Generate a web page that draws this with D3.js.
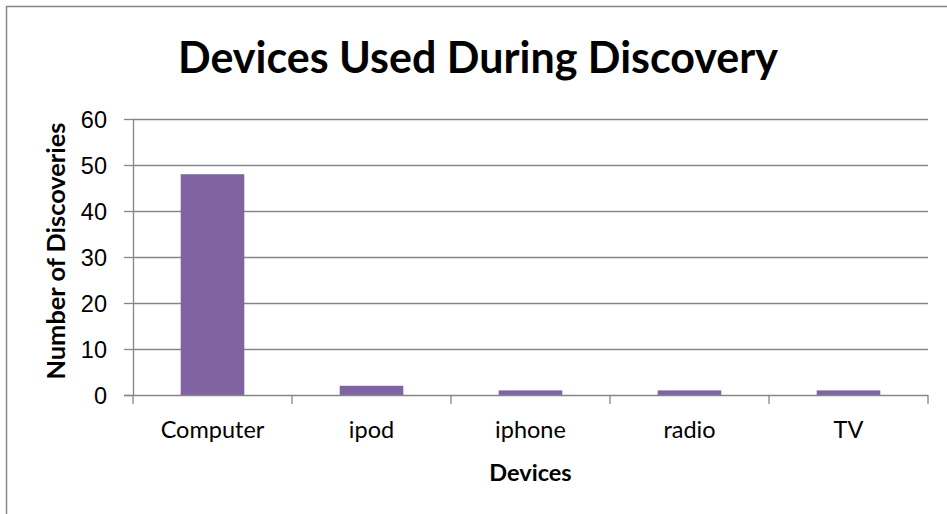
<!DOCTYPE html>
<html>
<head>
<meta charset="utf-8">
<script src="https://cdn.jsdelivr.net/npm/d3@7"></script>
<style type="text/css">
  body{
    margin: 0;
    background: white;
    font-family: 'Lato', 'Open Sans', sans-serif;
  }
  .axis text{
    fill: #000;
    font-size: 23.5px;
  }
  .axis path,
  .axis line{
    stroke: #868686;
  }
</style>
</head>
<body>
<svg id="chart" width="947" height="514"></svg>
<script>

var categories = ['Computer', 'ipod', 'iphone', 'radio', 'TV'];
var discoveries = [48, 2, 1, 1, 1];
var yTicks = [0, 10, 20, 30, 40, 50, 60];

var svg = d3.select('#chart');

// outer chart border (right/bottom fall outside the picture)
svg.append('rect')
  .attr('x', 6.5)
  .attr('y', 6.5)
  .attr('width', 960)
  .attr('height', 520)
  .attr('fill', 'white')
  .attr('stroke', '#868686')
  .attr('stroke-width', 1.5);

var plotL = 133, plotR = 928, plotT = 119, plotB = 395;

var x = d3.scaleBand()
  .domain(categories)
  .range([plotL, plotR])
  .paddingInner(0.6)
  .paddingOuter(0.3);

var xTicks = d3.scaleBand().domain(categories).range([plotL, plotR]);

var y = d3.scaleLinear()
  .domain([0, 60])
  .range([plotB, plotT]);

// gridlines
svg.append('g')
  .selectAll('line')
  .data(yTicks.slice(1))
  .join('line')
  .attr('x1', plotL)
  .attr('x2', plotR)
  .attr('y1', function(d) { return Math.round(y(d)) + 0.5; })
  .attr('y2', function(d) { return Math.round(y(d)) + 0.5; })
  .attr('stroke', '#868686')
  .attr('stroke-width', 1.3);

// bars
svg.append('g')
  .selectAll('rect')
  .data(discoveries)
  .join('rect')
  .attr('x', function(d, i) { return x(categories[i]); })
  .attr('y', function(d) { return y(d); })
  .attr('width', x.bandwidth())
  .attr('height', function(d) { return plotB - y(d); })
  .attr('fill', '#8064A2');

// y axis
var yAxis = svg.append('g')
  .attr('class', 'axis')
  .attr('transform', 'translate(' + plotL + ',0)')
  .call(d3.axisLeft(y).tickValues(yTicks).tickSize(9).tickPadding(17).tickSizeOuter(0));
yAxis.selectAll('line').attr('stroke-width', 1.3);
yAxis.select('.domain').attr('stroke-width', 1.3);
yAxis.selectAll('text').attr('dy', '0.36em');

// x axis with ticks between categories
var xAxis = svg.append('g')
  .attr('class', 'axis')
  .attr('transform', 'translate(0,' + plotB + ')');
xAxis.append('line')
  .attr('x1', plotL - 9)
  .attr('x2', plotR)
  .attr('y1', 0.5)
  .attr('y2', 0.5)
  .attr('stroke-width', 1.3);
xAxis.selectAll('.tk')
  .data(categories.concat(['end']))
  .join('line')
  .attr('class', 'tk')
  .attr('x1', function(d, i) { return i < categories.length ? xTicks(d) : plotR; })
  .attr('x2', function(d, i) { return i < categories.length ? xTicks(d) : plotR; })
  .attr('y1', 0)
  .attr('y2', 9)
  .attr('stroke-width', 1.3);
xAxis.selectAll('.lbl')
  .data(categories)
  .join('text')
  .attr('class', 'lbl')
  .attr('x', function(d) { return xTicks(d) + xTicks.bandwidth() / 2; })
  .attr('y', 43)
  .attr('text-anchor', 'middle')
  .text(function(d) { return d; });

// titles
svg.append('text')
  .attr('x', 478)
  .attr('y', 73)
  .attr('text-anchor', 'middle')
  .style('font-size', '43px')
  .style('font-weight', 'bold')
  .text('Devices Used During Discovery');

svg.append('text')
  .attr('x', (plotL + plotR) / 2)
  .attr('y', 481)
  .attr('text-anchor', 'middle')
  .style('font-size', '23.5px')
  .style('font-weight', 'bold')
  .text('Devices');

svg.append('text')
  .attr('transform', 'translate(65,' + 251 + ') rotate(-90)')
  .attr('text-anchor', 'middle')
  .attr('textLength', 257)
  .attr('lengthAdjust', 'spacingAndGlyphs')
  .style('font-size', '24.5px')
  .style('font-weight', 'bold')
  .text('Number of Discoveries');

</script>
</body>
</html>
